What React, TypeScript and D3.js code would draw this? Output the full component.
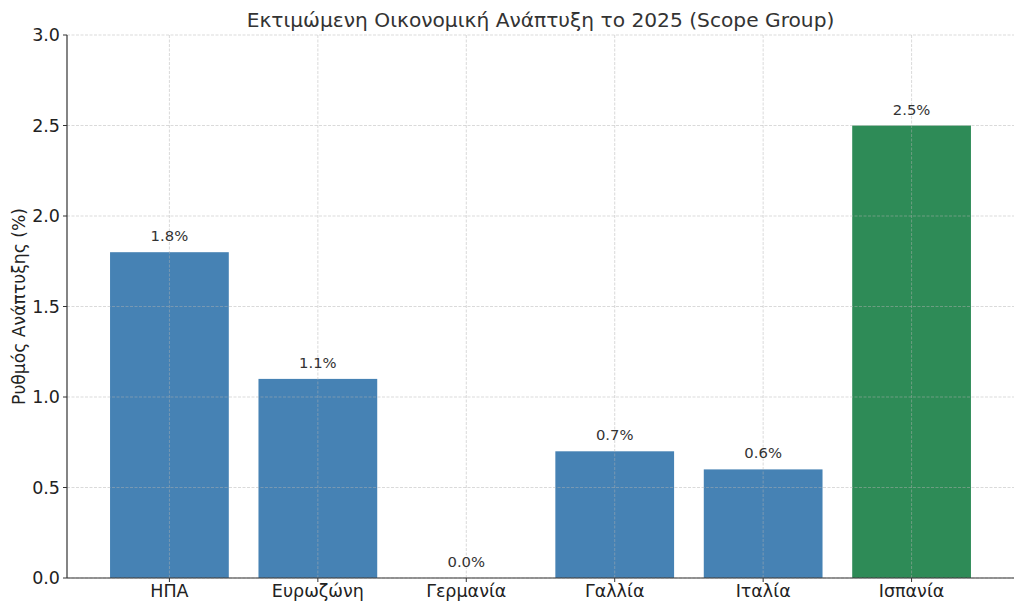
import React from "react";
import * as d3 from "d3";

const categories = ["ΗΠΑ", "Ευρωζώνη", "Γερμανία", "Γαλλία", "Ιταλία", "Ισπανία"];
const values = [1.8, 1.1, 0.0, 0.7, 0.6, 2.5];
const colors = ["#4682b4", "#4682b4", "#4682b4", "#4682b4", "#4682b4", "#2e8b57"];
const yTicks = [0, 0.5, 1.0, 1.5, 2.0, 2.5, 3.0];
const title = "Εκτιμώμενη Οικονομική Ανάπτυξη το 2025 (Scope Group)";
const yLabel = "Ρυθμός Ανάπτυξης (%)";

const W = 1024;
const H = 611;
const left = 67;
const right = 1014;
const top = 35;
const bottom = 578;

export default function App() {
  const x = d3.scaleLinear().domain([-0.69, 5.69]).range([left, right]);
  const y = d3.scaleLinear().domain([0, 3]).range([bottom, top]);
  const bw = x(0.4) - x(-0.4);
  const font = "DejaVu Sans, sans-serif";
  return (
    <svg width={W} height={H} style={{ position: "absolute", left: 0, top: 0 }} fontFamily={font}>
      <rect width={W} height={H} fill="#fff" />
      {categories.map((c, i) => (
        <rect key={c} x={x(i) - bw / 2} y={y(values[i])} width={bw} height={y(0) - y(values[i])} fill={colors[i]} />
      ))}
      {yTicks.map((t) => (
        <line key={"gy" + t} x1={left} x2={right} y1={y(t)} y2={y(t)} stroke="#b0b0b0" strokeOpacity={0.6} strokeWidth={0.8} strokeDasharray="3,1.5" />
      ))}
      {categories.map((c, i) => (
        <line key={"gx" + c} x1={x(i)} x2={x(i)} y1={top} y2={bottom} stroke="#b0b0b0" strokeOpacity={0.6} strokeWidth={0.8} strokeDasharray="3,1.5" />
      ))}
      <line x1={left} x2={left} y1={top} y2={bottom} stroke="#333" strokeWidth={1.2} />
      <line x1={left} x2={right} y1={bottom} y2={bottom} stroke="#333" strokeWidth={1.2} />
      {yTicks.map((t) => (
        <g key={"ty" + t}>
          <line x1={left - 4} x2={left} y1={y(t)} y2={y(t)} stroke="#333" strokeWidth={1} />
          <text x={left - 7} y={y(t)} dy="0.35em" textAnchor="end" fontSize={17.5} fill="#222">
            {t.toFixed(1)}
          </text>
        </g>
      ))}
      {categories.map((c, i) => (
        <g key={"tx" + c}>
          <line x1={x(i)} x2={x(i)} y1={bottom} y2={bottom + 4} stroke="#333" strokeWidth={1} />
          <text x={x(i)} y={bottom + 19} textAnchor="middle" fontSize={17.5} fill="#222">
            {c}
          </text>
        </g>
      ))}
      {categories.map((c, i) => (
        <text key={"v" + c} x={x(i)} y={y(values[i]) - 11} textAnchor="middle" fontSize={14.8} fill="#333">
          {values[i].toFixed(1) + "%"}
        </text>
      ))}
      <text x={(left + right) / 2 + 0} y={27} textAnchor="middle" fontSize={20.2} fill="#333">
        {title}
      </text>
      <text transform={`translate(25, ${(top + bottom) / 2}) rotate(-90)`} textAnchor="middle" fontSize={17.2} fill="#222">
        {yLabel}
      </text>
    </svg>
  );
}
